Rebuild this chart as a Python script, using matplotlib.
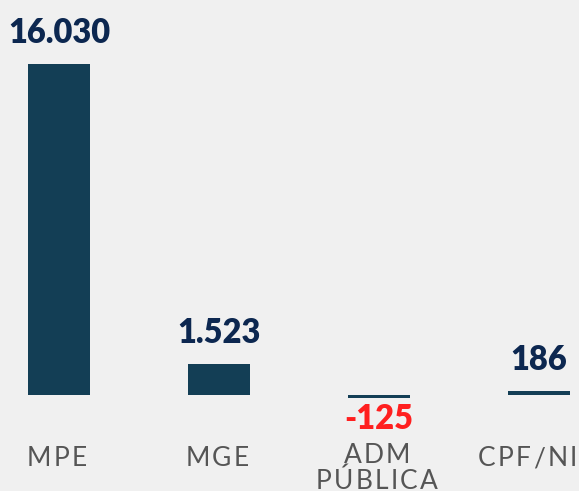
import matplotlib
matplotlib.use("Agg")
import matplotlib.pyplot as plt
import matplotlib.transforms as mtransforms
from matplotlib.font_manager import FontProperties

categories = ["MPE", "MGE", "ADM\nPÚBLICA", "CPF/NI"]
values = [16030, 1523, -125, 186]
value_labels = ["16.030", "1.523", "-125", "186"]

BG = "#f0f0f0"
BAR = "#133e55"
NAVY = "#0c2750"
RED = "#ff1f1f"
GRAY = "#555555"

plt.rcParams["font.family"] = ["Lato", "DejaVu Sans"]

fig = plt.figure(figsize=(5.79, 4.91), dpi=100, facecolor=BG)
ax = fig.add_axes([0, 0, 1, 1])
ax.set_facecolor(BG)
ax.axis("off")

x = list(range(len(categories)))
ax.bar(x, values, width=0.39, color=BAR)
ax.set_xlim(-0.369, 3.25)
ax.set_ylim(-4649, 19128)

for xi, v, lab in zip(x, values, value_labels):
    if v >= 0:
        ax.annotate(lab, (xi, v), xytext=(0, 15), textcoords="offset points",
                    ha="center", va="baseline", fontsize=23.5, fontweight="heavy",
                    color=NAVY)
    else:
        ax.annotate(lab, (xi, v), xytext=(0, -4), textcoords="offset points",
                    ha="center", va="top", fontsize=23.5, fontweight="heavy",
                    color=RED)

# category labels with letter spacing, drawn character by character
renderer = fig.canvas.get_renderer()
prop = FontProperties(family=["Lato", "DejaVu Sans"], size=19)
track_px = 2.3
line_px = 26.0
H = fig.get_figheight() * fig.dpi
W = fig.get_figwidth() * fig.dpi

def text_w(s):
    if not s:
        return 0.0
    w, h, d = renderer.get_text_width_height_descent(s, prop, ismath=False)
    return w

trans = mtransforms.blended_transform_factory(ax.transData, ax.transAxes)
for xi, cat in zip(x, categories):
    lines = cat.split("\n")
    base0 = 466 - 3 * (len(lines) - 1)
    center_px = ax.transData.transform((xi, 0))[0]
    for li, line in enumerate(lines):
        total = text_w(line) + track_px * (len(line) - 1)
        shift = -2
        right = center_px + total / 2 + shift
        if right > W - 2:
            shift -= right - (W - 2)
        y_ax = 1 - (base0 + li * line_px) / H
        for ci, ch in enumerate(line):
            dx = -total / 2 + text_w(line[:ci]) + ci * track_px + shift
            off = mtransforms.ScaledTranslation(dx / fig.dpi, 0, fig.dpi_scale_trans)
            ax.text(xi, y_ax, ch, transform=trans + off, ha="left", va="baseline",
                    fontproperties=prop, color=GRAY)

fig.savefig("out.png", dpi=100, facecolor=BG)
